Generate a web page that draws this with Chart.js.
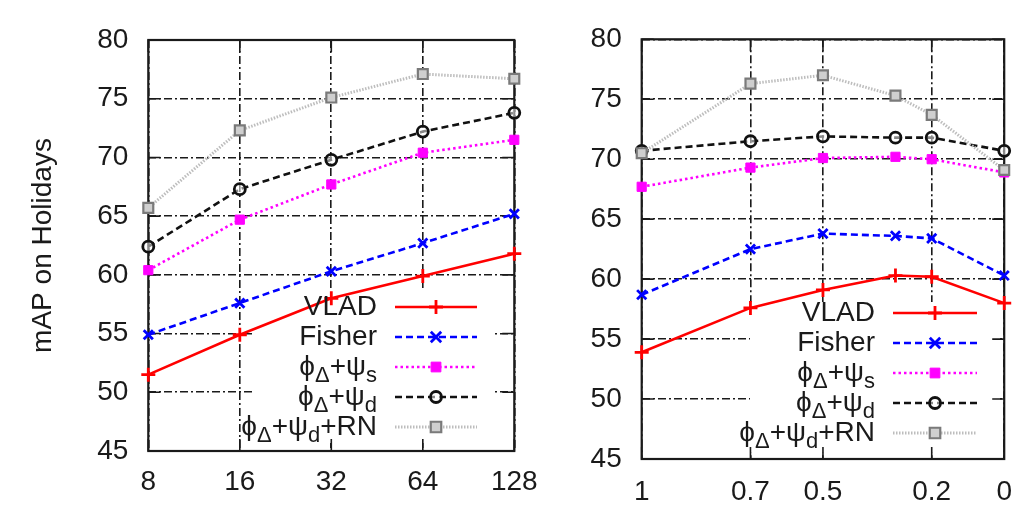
<!DOCTYPE html>
<html><head><meta charset="utf-8">
<script src="https://cdn.jsdelivr.net/npm/chart.js@4.4.1/dist/chart.umd.min.js"></script>
<style>
html,body{margin:0;padding:0;background:#fff;}
#wrap{position:relative;width:1028px;height:506px;overflow:hidden;background:#fff;}
canvas{position:absolute;top:0;display:block;}
</style></head><body>
<div id="wrap"><canvas id="c1" width="560" height="506" style="left:0px"></canvas><canvas id="c2" width="468" height="506" style="left:560px"></canvas></div>
<script>
// ---------- data ----------
const leftCategories = ['8','16','32','64','128'];
const rightX = [1, 0.7, 0.5, 0.3, 0.2, 0];
const rightTicks = [1, 0.7, 0.5, 0.2, 0];
const yMin = 45, yMax = 80, yStep = 5;
const yTitle = 'mAP on Holidays';

const leftVLAD   = [51.5, 54.9, 58.0, 59.9, 61.8];
const leftFisher = [54.9, 57.6, 60.3, 62.7, 65.2];
const leftPsiS   = [60.4, 64.7, 67.7, 70.4, 71.5];
const leftPsiD   = [62.4, 67.3, 69.8, 72.2, 73.8];
const leftRN     = [65.7, 72.3, 75.1, 77.1, 76.7];

const rightVLAD   = [53.9, 57.6, 59.1, 60.3, 60.2, 58.0];
const rightFisher = [58.7, 62.5, 63.8, 63.6, 63.4, 60.3];
const rightPsiS   = [67.7, 69.3, 70.1, 70.2, 70.0, 68.9];
const rightPsiD   = [70.7, 71.5, 71.9, 71.8, 71.8, 70.7];
const rightRN     = [70.5, 76.3, 77.0, 75.3, 73.7, 69.1];

// legend labels: [text, isSubscript]
const legendLabels = [
  [['VLAD',0]],
  [['Fisher',0]],
  [['\u03D5',0],['\u0394',1],['+\u03C8',0],['s',1]],
  [['\u03D5',0],['\u0394',1],['+\u03C8',0],['d',1]],
  [['\u03D5',0],['\u0394',1],['+\u03C8',0],['d',1],['+RN',0]]
];

// ---------- styles ----------
const FONT = "'Liberation Sans', Arial, Helvetica, sans-serif";
Chart.defaults.font.family = FONT;
const styles = [
  {color:'#ff0000', width:2.6, dash:[],      ps:'cross',    pr:7, pbw:2.8, pfill:'#ff0000', pborder:'#ff0000'},
  {color:'#0000ff', width:2.6, dash:[7,4],   ps:'crossRot', pr:6.5, pbw:2.8, pfill:'#0000ff', pborder:'#0000ff'},
  {color:'#ff00ff', width:2.6, dash:[2.5,3], ps:'rect',     pr:6.5, pbw:1,   pfill:'#ff00ff', pborder:'#ff00ff'},
  {color:'#111111', width:2.6, dash:[7,4],   ps:'circle',   pr:5.5, pbw:2.8, pfill:'rgba(255,255,255,0.5)', pborder:'#111111'},
  {color:'#bdbdbd', width:3,   dash:[1.5,1.5], ps:'rect',   pr:7, pbw:2.2, pfill:'#cfcfcf', pborder:'#7a7a7a'}
];

function makeDatasets(seriesList, xs) {
  return seriesList.map((vals, i) => {
    const s = styles[i];
    return {
      label: legendLabels[i].map(p => p[0]).join(''),
      data: xs ? vals.map((v, k) => ({x: xs[k], y: v})) : vals,
      borderColor: s.color, borderWidth: s.width, borderDash: s.dash,
      backgroundColor: s.color,
      pointStyle: s.ps, pointRadius: s.pr, pointBorderWidth: s.pbw,
      pointBackgroundColor: s.pfill, pointBorderColor: s.pborder,
      tension: 0, fill: false, clip: false
    };
  }).reverse();
}

function drawMarker(ctx, s, x, y) {
  ctx.save();
  ctx.setLineDash([]);
  ctx.lineWidth = s.pbw;
  ctx.strokeStyle = s.pborder;
  ctx.fillStyle = s.pfill;
  const r = s.pr;
  ctx.beginPath();
  if (s.ps === 'cross') {
    ctx.moveTo(x - r, y); ctx.lineTo(x + r, y);
    ctx.moveTo(x, y - r); ctx.lineTo(x, y + r);
    ctx.stroke();
  } else if (s.ps === 'crossRot') {
    const d = r * 0.8;
    ctx.moveTo(x - d, y - d); ctx.lineTo(x + d, y + d);
    ctx.moveTo(x + d, y - d); ctx.lineTo(x - d, y + d);
    ctx.stroke();
  } else if (s.ps === 'rect') {
    const d = r * 0.75;
    ctx.rect(x - d, y - d, 2 * d, 2 * d);
    ctx.fill(); ctx.stroke();
  } else {
    ctx.arc(x, y, r, 0, Math.PI * 2);
    ctx.fill(); ctx.stroke();
  }
  ctx.restore();
}

const framePlugin = {
  id: 'gnuFrame',
  beforeDatasetsDraw(chart, args, opts) {
    const {ctx, chartArea: a} = chart;
    ctx.save();
    // opaque key box
    ctx.fillStyle = '#ffffff';
    ctx.fillRect(opts.box[0], opts.box[1], opts.box[2] - opts.box[0], opts.box[3] - opts.box[1]);
    // inward ticks
    ctx.strokeStyle = '#1a1a1a';
    ctx.lineWidth = 1.6;
    ctx.setLineDash([]);
    const L = 12;
    const ys = chart.scales.y, xs = chart.scales.x;
    ys.ticks.forEach((t, i) => {
      const py = ys.getPixelForTick(i);
      ctx.beginPath();
      ctx.moveTo(a.left, py); ctx.lineTo(a.left + L, py);
      ctx.moveTo(a.right, py); ctx.lineTo(a.right - L, py);
      ctx.stroke();
    });
    xs.ticks.forEach((t, i) => {
      const px = xs.getPixelForTick(i);
      ctx.beginPath();
      ctx.moveTo(px, a.bottom); ctx.lineTo(px, a.bottom - L);
      ctx.moveTo(px, a.top); ctx.lineTo(px, a.top + L);
      ctx.stroke();
    });
    // frame
    ctx.lineWidth = 2.2;
    ctx.strokeStyle = '#1a1a1a';
    ctx.strokeRect(a.left, a.top, a.right - a.left, a.bottom - a.top);
    ctx.restore();
  },
  afterDatasetsDraw(chart, args, opts) {
    const {ctx} = chart;
    ctx.save();
    ctx.textBaseline = 'middle';
    ctx.fillStyle = '#1a1a1a';
    legendLabels.forEach((parts, i) => {
      const y = opts.rowY + i * opts.rowStep;
      const big = '28px ' + FONT, small = '22px ' + FONT;
      let total = 0;
      parts.forEach(p => { ctx.font = p[1] ? small : big; total += ctx.measureText(p[0]).width; });
      let x = opts.textRight - total;
      ctx.textAlign = 'left';
      parts.forEach(p => {
        ctx.font = p[1] ? small : big;
        ctx.fillText(p[0], x, p[1] ? y + 9 : y);
        x += ctx.measureText(p[0]).width;
      });
      const s = styles[i];
      ctx.save();
      ctx.strokeStyle = s.color; ctx.lineWidth = s.width; ctx.setLineDash(s.dash);
      ctx.beginPath(); ctx.moveTo(opts.lineX1, y); ctx.lineTo(opts.lineX2, y); ctx.stroke();
      ctx.restore();
      drawMarker(ctx, s, (opts.lineX1 + opts.lineX2) / 2, y);
    });
    ctx.restore();
  }
};

function gridOpts() {
  return {
    grid: {color: '#1a1a1a', lineWidth: 1.6, drawTicks: false, drawOnChartArea: true},
    border: {display: false, dash: [8, 3, 2, 3]}
  };
}

function yScale(width, withTitle) {
  return Object.assign({
    type: 'linear', min: yMin, max: yMax,
    ticks: {stepSize: yStep, padding: 20, color: '#1a1a1a', font: {size: 28}},
    title: withTitle ? {display: true, text: yTitle, color: '#1a1a1a', font: {size: 28}, padding: {top: 26, bottom: 0}} : {display: false},
    afterFit: s => { s.width = width; }
  }, gridOpts());
}

// ---------- left chart ----------
new Chart(document.getElementById('c1'), {
  type: 'line',
  data: {
    labels: leftCategories,
    datasets: makeDatasets([leftVLAD, leftFisher, leftPsiS, leftPsiD, leftRN], null)
  },
  options: {
    responsive: false, animation: false, devicePixelRatio: 1,
    layout: {padding: {left: 0, top: 40, right: 45.7, bottom: 5}},
    plugins: {
      legend: {display: false}, tooltip: {enabled: false},
      gnuFrame: {box: [253, 290, 495, 443], rowY: 307, rowStep: 30, textRight: 377, lineX1: 395, lineX2: 477}
    },
    scales: {
      x: Object.assign({
        type: 'category', offset: false,
        ticks: {padding: 14, color: '#1a1a1a', font: {size: 28}, maxRotation: 0, autoSkip: false},
        afterFit: s => { s.height = 50; }
      }, gridOpts()),
      y: yScale(148.3, true)
    }
  },
  plugins: [framePlugin]
});

// ---------- right chart ----------
new Chart(document.getElementById('c2'), {
  type: 'line',
  data: {
    datasets: makeDatasets([rightVLAD, rightFisher, rightPsiS, rightPsiD, rightRN], rightX)
  },
  options: {
    responsive: false, animation: false, devicePixelRatio: 1,
    layout: {padding: {left: 0, top: 39.3, right: 13, bottom: 2}},
    plugins: {
      legend: {display: false}, tooltip: {enabled: false},
      gnuFrame: {box: [190, 302, 440, 452], rowY: 313, rowStep: 30, textRight: 315, lineX1: 333, lineX2: 417}
    },
    scales: {
      x: Object.assign({
        type: 'linear', min: 0, max: 1, reverse: true,
        afterBuildTicks: s => { s.ticks = rightTicks.map(v => ({value: v})); },
        ticks: {padding: 16, color: '#1a1a1a', font: {size: 28}, maxRotation: 0, autoSkip: false,
                callback: v => String(v)},
        afterFit: s => { s.height = 45; }
      }, gridOpts()),
      y: yScale(81.7, false)
    }
  },
  plugins: [framePlugin]
});
</script>
</body></html>
